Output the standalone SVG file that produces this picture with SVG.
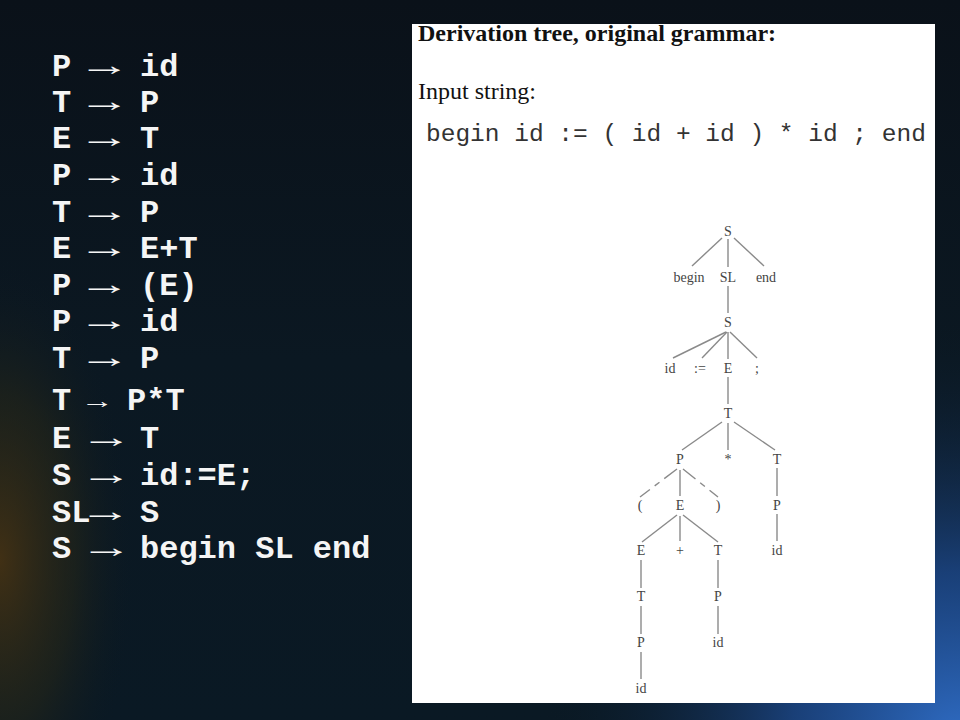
<svg xmlns="http://www.w3.org/2000/svg" width="960" height="720" viewBox="0 0 960 720">
<defs>
<linearGradient id="bg" x1="0" y1="0" x2="0" y2="1">
<stop offset="0" stop-color="#0a1119"/>
<stop offset="0.5" stop-color="#0b1822"/>
<stop offset="1" stop-color="#0a1924"/>
</linearGradient>
<radialGradient id="orange" cx="0" cy="560" r="300" gradientTransform="translate(0 560) scale(0.45 1) translate(0 -560)" gradientUnits="userSpaceOnUse">
<stop offset="0" stop-color="#4a3412" stop-opacity="0.85"/>
<stop offset="0.55" stop-color="#2e2a14" stop-opacity="0.45"/>
<stop offset="1" stop-color="#0b1822" stop-opacity="0"/>
</radialGradient>
<radialGradient id="blue" cx="960" cy="740" r="420" gradientUnits="userSpaceOnUse">
<stop offset="0" stop-color="#2f6cc4" stop-opacity="1"/>
<stop offset="0.4" stop-color="#1c4686" stop-opacity="0.85"/>
<stop offset="1" stop-color="#0b1822" stop-opacity="0"/>
</radialGradient>
<style>
.rule{font-family:"Liberation Mono","Courier New",monospace;font-weight:bold;font-size:32px;fill:#f5f5f5}
.arr{font-family:"Liberation Serif","Times New Roman",serif;font-size:30px;fill:#f5f5f5}
.hdr{font-family:"Liberation Serif","Times New Roman",serif;font-size:24px;fill:#111}
.inp{font-family:"Liberation Mono","Courier New",monospace;font-size:24.5px;fill:#333}
.nd{font-family:"Liberation Serif","Times New Roman",serif;font-size:14px;fill:#444;text-anchor:middle}
.ed{stroke:#8a8a8a;stroke-width:1.4;fill:none}
.dash{stroke-dasharray:16 6 6 6}
</style>
</defs>
<rect x="0" y="0" width="960" height="720" fill="url(#bg)"/>
<rect x="0" y="0" width="960" height="720" fill="url(#orange)"/>
<rect x="0" y="0" width="960" height="720" fill="url(#blue)"/>

<g id="rules">
<text class="rule" x="52" y="76">P</text><text class="arr" transform="translate(78 75) scale(1.75 1)">→</text><text class="rule" x="140" y="76">id</text>
<text class="rule" x="52" y="112">T</text><text class="arr" transform="translate(78 111) scale(1.75 1)">→</text><text class="rule" x="140" y="112">P</text>
<text class="rule" x="52" y="148">E</text><text class="arr" transform="translate(78 147) scale(1.75 1)">→</text><text class="rule" x="140" y="148">T</text>
<text class="rule" x="52" y="185">P</text><text class="arr" transform="translate(78 184) scale(1.75 1)">→</text><text class="rule" x="140" y="185">id</text>
<text class="rule" x="52" y="222">T</text><text class="arr" transform="translate(78 221) scale(1.75 1)">→</text><text class="rule" x="140" y="222">P</text>
<text class="rule" x="52" y="258">E</text><text class="arr" transform="translate(78 257) scale(1.75 1)">→</text><text class="rule" x="140" y="258">E+T</text>
<text class="rule" x="52" y="295">P</text><text class="arr" transform="translate(78 294) scale(1.75 1)">→</text><text class="rule" x="140" y="295">(E)</text>
<text class="rule" x="52" y="331">P</text><text class="arr" transform="translate(78 330) scale(1.75 1)">→</text><text class="rule" x="140" y="331">id</text>
<text class="rule" x="52" y="368">T</text><text class="arr" transform="translate(78 367) scale(1.75 1)">→</text><text class="rule" x="140" y="368">P</text>
<text class="rule" x="52" y="410">T</text><text class="arr" transform="translate(81 408) scale(1.5 1)" style="font-size:22px">→</text><text class="rule" x="127" y="410">P*T</text>
<text class="rule" x="52" y="448">E</text><text class="arr" transform="translate(80 447) scale(1.75 1)">→</text><text class="rule" x="140" y="448">T</text>
<text class="rule" x="52" y="485">S</text><text class="arr" transform="translate(80 484) scale(1.75 1)">→</text><text class="rule" x="140" y="485">id:=E;</text>
<text class="rule" x="52" y="522">SL</text><text class="arr" transform="translate(79 521) scale(1.75 1)">→</text><text class="rule" x="140" y="522">S</text>
<text class="rule" x="52" y="558">S</text><text class="arr" transform="translate(80 557) scale(1.75 1)">→</text><text class="rule" x="140" y="558">begin SL end</text>
</g>

<g id="panel">
<rect x="412" y="24" width="523" height="679" fill="#ffffff"/>
<text class="hdr" x="418" y="41" font-weight="bold">Derivation tree, original grammar:</text>
<text class="hdr" x="418" y="99">Input string:</text>
<text class="inp" x="426" y="141">begin id := ( id + id ) * id ; end</text>
</g>

<g id="connectors">
<line class="ed" x1="722" y1="238" x2="692" y2="266"/>
<line class="ed" x1="728" y1="239" x2="728" y2="267"/>
<line class="ed" x1="734" y1="238" x2="764" y2="266"/>
<line class="ed" x1="728" y1="286" x2="728" y2="313"/>
<line class="ed" x1="726" y1="332" x2="673" y2="358"/>
<line class="ed" x1="727" y1="332" x2="702" y2="358"/>
<line class="ed" x1="728" y1="332" x2="728" y2="359"/>
<line class="ed" x1="730" y1="332" x2="757" y2="358"/>
<line class="ed" x1="728" y1="377" x2="728" y2="404"/>
<line class="ed" x1="722" y1="422" x2="682" y2="450"/>
<line class="ed" x1="728" y1="423" x2="728" y2="450"/>
<line class="ed" x1="734" y1="422" x2="775" y2="450"/>
<line class="ed dash" x1="677" y1="469" x2="640" y2="497"/>
<line class="ed" x1="680" y1="470" x2="680" y2="496"/>
<line class="ed dash" x1="683" y1="469" x2="718" y2="497"/>
<line class="ed" x1="777" y1="468" x2="777" y2="496"/>
<line class="ed" x1="677" y1="515" x2="642" y2="542"/>
<line class="ed" x1="680" y1="516" x2="680" y2="541"/>
<line class="ed" x1="683" y1="515" x2="718" y2="542"/>
<line class="ed" x1="777" y1="514" x2="777" y2="541"/>
<line class="ed" x1="641" y1="560" x2="641" y2="588"/>
<line class="ed" x1="718" y1="560" x2="718" y2="588"/>
<line class="ed" x1="641" y1="606" x2="641" y2="634"/>
<line class="ed" x1="718" y1="606" x2="718" y2="634"/>
<line class="ed" x1="641" y1="652" x2="641" y2="679"/>
</g>

<g id="n_S1"><text class="nd" x="728" y="236">S</text></g>
<g id="n_begin"><text class="nd" x="689" y="282">begin</text></g>
<g id="n_SL"><text class="nd" x="728" y="282">SL</text></g>
<g id="n_end"><text class="nd" x="766" y="282">end</text></g>
<g id="n_S2"><text class="nd" x="728" y="327">S</text></g>
<g id="n_id1"><text class="nd" x="670" y="373">id</text></g>
<g id="n_assign"><text class="nd" x="700" y="373">:=</text></g>
<g id="n_E1"><text class="nd" x="728" y="373">E</text></g>
<g id="n_semi"><text class="nd" x="757" y="373">;</text></g>
<g id="n_T1"><text class="nd" x="728" y="418">T</text></g>
<g id="n_P1"><text class="nd" x="680" y="464">P</text></g>
<g id="n_star"><text class="nd" x="728" y="464">*</text></g>
<g id="n_T2"><text class="nd" x="777" y="464">T</text></g>
<g id="n_lp"><text class="nd" x="640" y="510">(</text></g>
<g id="n_E2"><text class="nd" x="680" y="510">E</text></g>
<g id="n_rp"><text class="nd" x="718" y="510">)</text></g>
<g id="n_P2"><text class="nd" x="777" y="510">P</text></g>
<g id="n_E3"><text class="nd" x="641" y="555">E</text></g>
<g id="n_plus"><text class="nd" x="680" y="555">+</text></g>
<g id="n_T3"><text class="nd" x="718" y="555">T</text></g>
<g id="n_id2"><text class="nd" x="777" y="555">id</text></g>
<g id="n_T4"><text class="nd" x="641" y="601">T</text></g>
<g id="n_P3"><text class="nd" x="718" y="601">P</text></g>
<g id="n_P4"><text class="nd" x="641" y="647">P</text></g>
<g id="n_id3"><text class="nd" x="718" y="647">id</text></g>
<g id="n_id4"><text class="nd" x="641" y="693">id</text></g>
</svg>
